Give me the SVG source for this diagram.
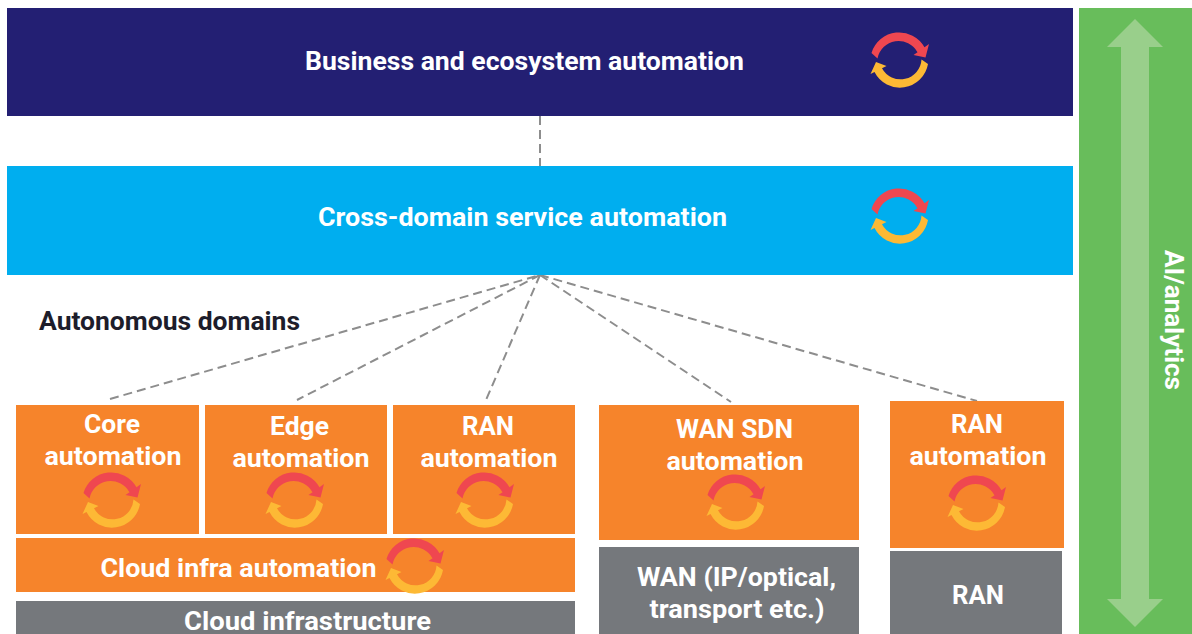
<svg xmlns="http://www.w3.org/2000/svg" width="1192" height="634" viewBox="0 0 1192 634">
<style>
text{font-family:Roboto,"Liberation Sans",sans-serif;font-weight:700;font-size:25.5px;fill:#fff;text-anchor:middle}
.o{fill:#f6842b}.g{fill:#75787c}
.c line{stroke:#8d8d8d;stroke-width:2;stroke-dasharray:9 5;fill:none}
</style>
<defs>
<g id="cycle">
<path fill="#ef4750" d="M-28.500,-7A29,29 0 0 1 24.500,-12.800L29,-16L25.500,-2.500L13.500,-5L17.500,-7.800A21.500,21.500 0 0 0 -22.500,-1.500Z"/>
<path fill="#fdb935" d="M28,4A28.500,28.500 0 0 1 -25.500,12L-29.500,14L-24,2L-13.500,6L-18,8.200A21,21 0 0 0 21.500,-0.500Z"/>
</g>
</defs>
<rect width="1192" height="634" fill="#fff"/>
<g id="connectors" class="c">
<line x1="540" y1="116" x2="540" y2="166"/>
<line x1="110" y1="399" x2="540" y2="275"/>
<line x1="540" y1="275" x2="297" y2="400"/>
<line x1="540" y1="275" x2="486" y2="400"/>
<line x1="540" y1="275" x2="731" y2="402"/>
<line x1="540" y1="275" x2="977" y2="401"/>
</g>
<g id="business"><rect x="7" y="8" width="1066" height="108" fill="#231f73"/><text x="524.500" y="70" textLength="439" lengthAdjust="spacingAndGlyphs">Business and ecosystem automation</text><use href="#cycle" x="900" y="60"/></g>
<g id="cross-domain"><rect x="7" y="166" width="1066" height="109" fill="#00aeef"/><text x="522.500" y="226" textLength="409" lengthAdjust="spacingAndGlyphs">Cross-domain service automation</text><use href="#cycle" x="900" y="216"/></g>
<g id="ai-analytics"><rect x="1079" y="8" width="113" height="626" fill="#68bd5b"/><path fill="#99cf8b" d="M1135,19L1163,47H1149V599H1163L1135,627L1107,599H1121V47H1107Z"/><text transform="translate(1165,320) rotate(90)" textLength="140" lengthAdjust="spacingAndGlyphs">AI/analytics</text></g>
<g id="autonomous-label"><text x="169.500" y="330" style="fill:#1d1d2b" textLength="261" lengthAdjust="spacingAndGlyphs">Autonomous domains</text></g>
<g id="core"><rect class="o" x="16" y="405" width="183" height="129"/><text x="112" y="433" textLength="56" lengthAdjust="spacingAndGlyphs">Core</text><text x="113" y="465" textLength="137" lengthAdjust="spacingAndGlyphs">automation</text><use href="#cycle" x="112" y="500"/></g>
<g id="edge"><rect class="o" x="205" y="405" width="182" height="129"/><text x="299.500" y="435" textLength="59" lengthAdjust="spacingAndGlyphs">Edge</text><text x="301" y="467" textLength="137" lengthAdjust="spacingAndGlyphs">automation</text><use href="#cycle" x="295" y="500"/></g>
<g id="ran-1"><rect class="o" x="393" y="405" width="182" height="129"/><text x="488" y="435" textLength="52" lengthAdjust="spacingAndGlyphs">RAN</text><text x="489" y="467" textLength="137" lengthAdjust="spacingAndGlyphs">automation</text><use href="#cycle" x="485" y="500"/></g>
<g id="cloud-infra-automation"><rect class="o" x="16" y="538" width="559" height="54"/><text x="238.500" y="577" textLength="276" lengthAdjust="spacingAndGlyphs">Cloud infra automation</text><use href="#cycle" x="415" y="566"/></g>
<g id="cloud-infrastructure"><rect class="g" x="16" y="601" width="559" height="33"/><text x="307.500" y="630" textLength="247" lengthAdjust="spacingAndGlyphs">Cloud infrastructure</text></g>
<g id="wan-sdn"><rect class="o" x="599" y="405" width="260" height="135"/><text x="734.500" y="438" textLength="117" lengthAdjust="spacingAndGlyphs">WAN SDN</text><text x="735" y="470" textLength="137" lengthAdjust="spacingAndGlyphs">automation</text><use href="#cycle" x="736" y="502"/></g>
<g id="wan"><rect class="g" x="599" y="547" width="260" height="87"/><text x="736.500" y="586" textLength="199" lengthAdjust="spacingAndGlyphs">WAN (IP/optical,</text><text x="737" y="618" textLength="175" lengthAdjust="spacingAndGlyphs">transport etc.)</text></g>
<g id="ran-2"><rect class="o" x="890" y="401" width="174" height="147"/><text x="977" y="433" textLength="52" lengthAdjust="spacingAndGlyphs">RAN</text><text x="978" y="465" textLength="137" lengthAdjust="spacingAndGlyphs">automation</text><use href="#cycle" x="977" y="503"/></g>
<g id="ran-infra"><rect class="g" x="890" y="551" width="172" height="83"/><text x="978" y="604" textLength="52" lengthAdjust="spacingAndGlyphs">RAN</text></g>
</svg>
